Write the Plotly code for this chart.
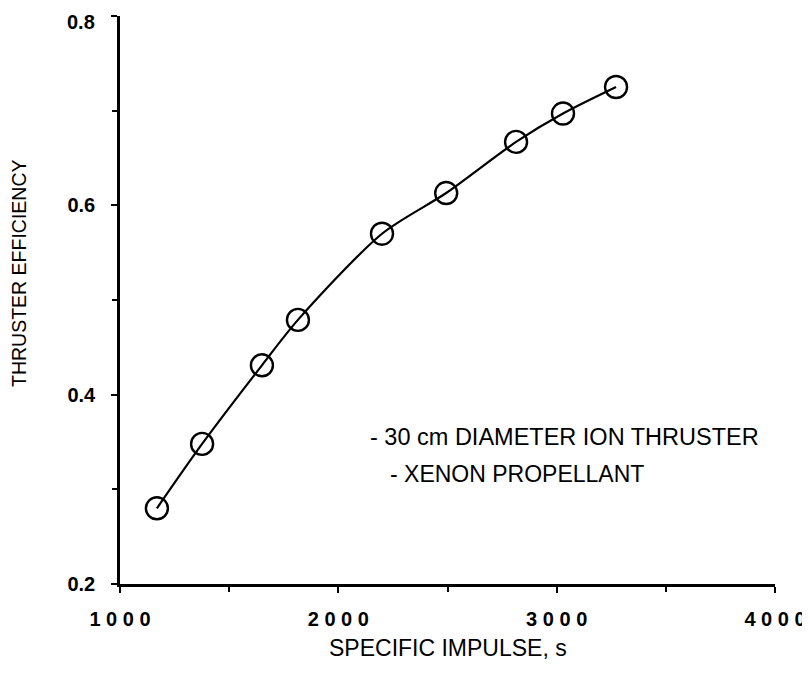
import plotly.graph_objects as go

# Data
specific_impulse = [1169, 1376, 1650, 1815, 2200, 2494, 2814, 3029, 3272]
efficiency = [0.280, 0.348, 0.431, 0.479, 0.570, 0.613, 0.667, 0.697, 0.725]

x_tick_vals = [1000, 2000, 3000, 4000]
x_tick_text = ["1 0 0 0", "2 0 0 0", "3 0 0 0", "4 0 0 0"]
y_tick_vals = [0.2, 0.4, 0.6, 0.8]
y_tick_text = ["0.2", "0.4", "0.6", "0.8"]

notes = ["- 30 cm DIAMETER ION THRUSTER", "- XENON PROPELLANT"]

FONT = "Liberation Sans, Arial, Helvetica, sans-serif"

fig = go.Figure()
fig.add_trace(go.Scatter(
    x=specific_impulse, y=efficiency,
    mode="lines+markers",
    line=dict(color="black", width=2.2, shape="spline", smoothing=0.8),
    marker=dict(symbol="circle-open", size=22, color="black", line=dict(width=2.4)),
    showlegend=False,
    hoverinfo="x+y",
))

# the top label sits at the very edge of the page, so it is drawn as an annotation
# just below its tick (as in the reference); the other labels come from the axis
axis_tick_text = y_tick_text[:-1] + [""]

# the page body adds an 8px margin; the figure is sized so it reaches the window edges
fig.update_layout(
    width=802, height=673,
    margin=dict(l=112, r=35, t=8, b=97, autoexpand=False),
    paper_bgcolor="white", plot_bgcolor="white",
    font=dict(family=FONT, color="black"),
    xaxis=dict(
        range=[1000, 4000], showgrid=False, zeroline=False, automargin=False,
        showline=True, linecolor="black", linewidth=2.5,
        tickvals=x_tick_vals, ticktext=x_tick_text,
        ticks="outside", ticklen=6, tickwidth=2, tickcolor="black",
        minor=dict(ticks="outside", dtick=500, tick0=1000, ticklen=5, tickwidth=2, tickcolor="black"),
        tickfont=dict(size=20, family=FONT, weight="bold"),
        ticklabelstandoff=9, ticklabeloverflow="allow",
    ),
    yaxis=dict(
        range=[0.2, 0.8], showgrid=False, zeroline=False, automargin=False,
        showline=True, linecolor="black", linewidth=2.5,
        tickvals=y_tick_vals, ticktext=axis_tick_text,
        ticks="outside", ticklen=6, tickwidth=2, tickcolor="black",
        minor=dict(ticks="outside", dtick=0.1, tick0=0.2, ticklen=5, tickwidth=2, tickcolor="black"),
        tickfont=dict(size=20, family=FONT, weight="bold"),
        ticklabelstandoff=12, ticklabeloverflow="allow",
    ),
)

fig.add_annotation(
    text=y_tick_text[-1], xref="paper", yref="paper",
    x=-(120 - 97) / 655, y=1 - (22 - 16) / 568,
    xanchor="right", yanchor="middle", showarrow=False,
    font=dict(size=20, family=FONT, weight="bold"),
)

# axis titles as annotations for exact placement
fig.add_annotation(
    text="SPECIFIC IMPULSE, s", xref="paper", yref="paper",
    x=(448 - 120) / 655, y=-(648 - 584) / 568,
    xanchor="center", yanchor="middle", showarrow=False,
    font=dict(size=23, family=FONT),
)
fig.add_annotation(
    text="THRUSTER EFFICIENCY", xref="paper", yref="paper",
    x=-(120 - 19) / 655, y=(584 - 273) / 568,
    xanchor="center", yanchor="middle", showarrow=False, textangle=-90,
    font=dict(size=19.5, family=FONT),
)

fig.add_annotation(
    text=notes[0], xref="x", yref="y", x=2136, y=0.355,
    xanchor="left", yanchor="middle", showarrow=False,
    font=dict(size=23.5, family=FONT),
)
fig.add_annotation(
    text=notes[1], xref="x", yref="y", x=2228, y=0.316,
    xanchor="left", yanchor="middle", showarrow=False,
    font=dict(size=23, family=FONT),
)

fig.write_html("out.html")
